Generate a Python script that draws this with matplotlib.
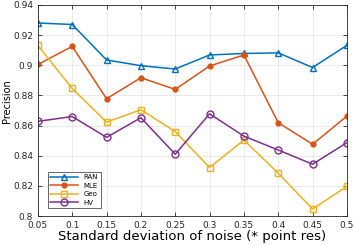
import matplotlib
matplotlib.use("Agg")
import matplotlib.pyplot as plt

noise = [0.05, 0.1, 0.15, 0.2, 0.25, 0.3, 0.35, 0.4, 0.45, 0.5]
ran = [0.928, 0.927, 0.9035, 0.8997, 0.8975, 0.9068, 0.9078, 0.9082, 0.8985, 0.9132]
mle = [0.9005, 0.9125, 0.8778, 0.8917, 0.8840, 0.8995, 0.9068, 0.8619, 0.8476, 0.8663]
geo = [0.9131, 0.8846, 0.8623, 0.8705, 0.8560, 0.8322, 0.8504, 0.8284, 0.8047, 0.8197]
hv = [0.8628, 0.8660, 0.8522, 0.8652, 0.8410, 0.8678, 0.8530, 0.8438, 0.8344, 0.8487]

fig = plt.figure(figsize=(3.54, 2.45), dpi=100)
ax = fig.add_axes([0.107, 0.118, 0.873, 0.862])

ax.plot(noise, ran, color="#0072BD", marker="^", mfc="none", ms=5, lw=1.1, label="RAN")
ax.plot(noise, mle, color="#D95319", marker="o", ms=3.5, lw=1.1, label="MLE")
ax.plot(noise, geo, color="#EDB120", marker="s", mfc="none", ms=4, lw=1.1, label="Geo")
ax.plot(noise, hv, color="#7E2F8E", marker="o", mfc="none", ms=5, lw=1.1, label="HV")

ax.set_xlim(0.05, 0.5)
ax.set_ylim(0.8, 0.94)
ax.set_xticks(noise)
ax.set_xticklabels(["0.05", "0.1", "0.15", "0.2", "0.25", "0.3", "0.35", "0.4", "0.45", "0.5"])
ax.set_yticks([0.8, 0.82, 0.84, 0.86, 0.88, 0.9, 0.92, 0.94])
ax.set_yticklabels(["0.8", "0.82", "0.84", "0.86", "0.88", "0.9", "0.92", "0.94"])
ax.tick_params(direction="in", top=True, right=True, labelsize=6.5, colors="#262626", length=3, width=0.6)
for s in ax.spines.values():
    s.set_color("#262626")
    s.set_linewidth(0.6)
ax.grid(True, color="#e6e6e6", lw=0.6)
ax.set_axisbelow(True)

ax.set_xlabel("Standard deviation of noise (* point res)", fontsize=9.5, labelpad=0)
ax.set_ylabel("Precision", fontsize=7)
ax.yaxis.set_label_coords(-0.085, 0.545)

leg = ax.legend(loc="lower left", fontsize=5, bbox_to_anchor=(0.02, 0.02),
                fancybox=False, edgecolor="#262626", handlelength=4, borderpad=0.4,
                labelspacing=0.35)
leg.get_frame().set_linewidth(0.6)

fig.savefig("out.png", dpi=100)
